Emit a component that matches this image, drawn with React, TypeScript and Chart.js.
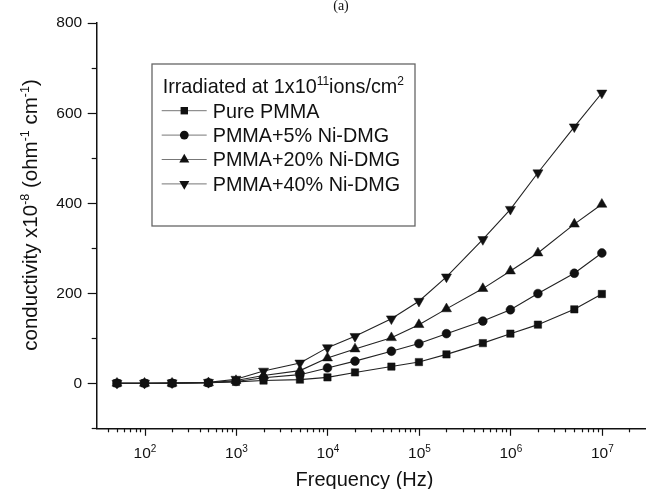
import React, { useEffect, useRef } from 'react';
import { Chart, registerables } from 'chart.js';

Chart.register(...registerables);

// ---- data ----
const frequencies = [50, 100, 200, 500, 1e3, 2e3, 5e3, 1e4, 2e4, 5e4, 1e5, 2e5, 5e5, 1e6, 2e6, 5e6, 1e7];
const purePMMA = [0, 0, 0, 1, 3, 6, 8, 13, 24, 37, 47, 64, 89, 110, 130, 164, 198];
const pmma5 = [0, 0, 0, 1, 4, 12, 19, 34, 49, 71, 88, 110, 138, 163, 199, 244, 289];
const pmma20 = [0, 0, 0, 1, 6, 17, 28, 56, 76, 101, 130, 165, 210, 249, 289, 353, 397];
const pmma40 = [0, 0, 1, 2, 9, 27, 45, 79, 104, 143, 182, 236, 319, 386, 467, 569, 644];

const seriesLabels = ['Pure PMMA', 'PMMA+5% Ni-DMG', 'PMMA+20% Ni-DMG', 'PMMA+40% Ni-DMG'];
const seriesValues = [purePMMA, pmma5, pmma20, pmma40];
const seriesStyles = ['rect', 'circle', 'triangle', 'triangleDown'];

const xTickExponents = [2, 3, 4, 5, 6, 7];
const yTickValues = [0, 200, 400, 600, 800];
const yMinorValues = [-100, 100, 300, 500, 700];

const FONT = '"Liberation Sans", Arial, Helvetica, sans-serif';

type Part = { text: string; sup?: boolean };

function drawRich(
  ctx: CanvasRenderingContext2D,
  parts: Part[],
  x: number,
  y: number,
  align: 'left' | 'center' | 'right',
  size: number,
  supSize: number,
  supRise: number
) {
  let total = 0;
  const widths = parts.map((p) => {
    ctx.font = `${p.sup ? supSize : size}px ${FONT}`;
    const w = ctx.measureText(p.text).width;
    total += w;
    return w;
  });
  let cx = align === 'left' ? x : align === 'center' ? x - total / 2 : x - total;
  ctx.textAlign = 'left';
  ctx.textBaseline = 'alphabetic';
  parts.forEach((p, i) => {
    ctx.font = `${p.sup ? supSize : size}px ${FONT}`;
    ctx.fillText(p.text, cx, p.sup ? y - supRise : y);
    cx += widths[i];
  });
}

function drawMarker(ctx: CanvasRenderingContext2D, style: string, x: number, y: number) {
  ctx.beginPath();
  if (style === 'rect') {
    const s = 3.7;
    ctx.rect(x - s, y - s, 2 * s, 2 * s);
  } else if (style === 'circle') {
    ctx.arc(x, y, 4.4, 0, Math.PI * 2);
  } else if (style === 'triangle') {
    const r = 5.8;
    ctx.moveTo(x, y - r);
    ctx.lineTo(x + r * 0.866, y + r / 2);
    ctx.lineTo(x - r * 0.866, y + r / 2);
    ctx.closePath();
  } else {
    const r = 5.8;
    ctx.moveTo(x, y + r);
    ctx.lineTo(x + r * 0.866, y - r / 2);
    ctx.lineTo(x - r * 0.866, y - r / 2);
    ctx.closePath();
  }
  ctx.fill();
}

const customPlugin = {
  id: 'customAxesLegend',
  afterDraw(chart: any) {
    const { ctx, chartArea, scales } = chart;
    const xs = scales.x;
    const ys = scales.y;
    ctx.save();
    ctx.strokeStyle = '#111';
    ctx.fillStyle = '#111';
    ctx.lineWidth = 1.2;

    // x tick marks
    const xMin = xs.min;
    const xMax = xs.max;
    for (let e = 1; e <= 7; e++) {
      for (let k = 1; k <= 9; k++) {
        const v = k * Math.pow(10, e);
        if (v <= xMin || v >= xMax) continue;
        const px = Math.round(xs.getPixelForValue(v)) + 0.5;
        const len = k === 1 ? 7.5 : 4;
        ctx.beginPath();
        ctx.moveTo(px, chartArea.bottom);
        ctx.lineTo(px, chartArea.bottom + len);
        ctx.stroke();
      }
    }
    // y tick marks
    yTickValues.forEach((v) => {
      const py = Math.round(ys.getPixelForValue(v)) + 0.5;
      ctx.beginPath();
      ctx.moveTo(chartArea.left, py);
      ctx.lineTo(chartArea.left - 9, py);
      ctx.stroke();
    });
    yMinorValues.forEach((v) => {
      const py = Math.round(ys.getPixelForValue(v)) + 0.5;
      ctx.beginPath();
      ctx.moveTo(chartArea.left, py);
      ctx.lineTo(chartArea.left - 5, py);
      ctx.stroke();
    });

    // y tick labels
    ctx.font = `15.5px ${FONT}`;
    ctx.textAlign = 'right';
    ctx.textBaseline = 'middle';
    yTickValues.forEach((v) => {
      ctx.fillText(String(v), chartArea.left - 14.5, ys.getPixelForValue(v) + 0.5);
    });

    // x tick labels
    xTickExponents.forEach((e) => {
      const px = xs.getPixelForValue(Math.pow(10, e));
      drawRich(ctx, [{ text: '10' }, { text: String(e), sup: true }], px + 0.5, chartArea.bottom + 30, 'center', 15.5, 10, 6);
    });

    // x axis title
    drawRich(ctx, [{ text: 'Frequency (Hz)' }], 364.5, 485.5, 'center', 20, 12, 8);

    // y axis title
    ctx.save();
    ctx.translate(36.5, 215);
    ctx.rotate(-Math.PI / 2);
    drawRich(
      ctx,
      [
        { text: 'conductivity x10' },
        { text: '-8', sup: true },
        { text: ' (ohm' },
        { text: '-1', sup: true },
        { text: ' cm' },
        { text: '-1', sup: true },
        { text: ')' },
      ],
      0,
      0,
      'center',
      20.5,
      12.5,
      8
    );
    ctx.restore();

    // legend
    ctx.strokeStyle = '#666';
    ctx.lineWidth = 1.3;
    ctx.strokeRect(152, 64, 263, 162);
    ctx.fillStyle = '#111';
    drawRich(
      ctx,
      [
        { text: 'Irradiated at 1x10' },
        { text: '11', sup: true },
        { text: 'ions/cm' },
        { text: '2', sup: true },
      ],
      162.7,
      92.7,
      'left',
      19.8,
      12,
      8
    );
    seriesLabels.forEach((label, i) => {
      const cy = 110.7 + i * 24.4;
      ctx.strokeStyle = '#777';
      ctx.lineWidth = 1;
      ctx.beginPath();
      ctx.moveTo(161.7, cy);
      ctx.lineTo(206.7, cy);
      ctx.stroke();
      ctx.fillStyle = '#111';
      drawMarker(ctx, seriesStyles[i], 184.3, cy);
      drawRich(ctx, [{ text: label }], 212.7, cy + 6.8, 'left', 19.8, 12, 8);
    });

    // panel label
    ctx.fillStyle = '#111';
    ctx.font = `14px "Liberation Serif", "Times New Roman", serif`;
    ctx.textAlign = 'center';
    ctx.textBaseline = 'alphabetic';
    ctx.fillText('(a)', 341, 10);

    ctx.restore();
  },
};

export default function App() {
  const canvasRef = useRef<HTMLCanvasElement | null>(null);

  useEffect(() => {
    if (!canvasRef.current) return;
    const pointStyleFor = (s: string) => (s === 'triangleDown' ? 'triangle' : s);
    const radiusFor = (s: string) => (s === 'rect' ? 5.2 : s === 'circle' ? 4.4 : 5.8);
    const datasets = seriesLabels.map((label, i) => ({
      label,
      data: frequencies.map((f, j) => ({ x: f, y: seriesValues[i][j] })),
      borderColor: '#222',
      borderWidth: 1.1,
      backgroundColor: '#111',
      pointBackgroundColor: '#111',
      pointBorderColor: '#111',
      pointBorderWidth: 0.5,
      pointStyle: pointStyleFor(seriesStyles[i]) as any,
      pointRotation: seriesStyles[i] === 'triangleDown' ? 180 : 0,
      pointRadius: radiusFor(seriesStyles[i]),
      tension: 0,
      fill: false,
    }));

    const chart = new Chart(canvasRef.current, {
      type: 'line',
      data: { datasets },
      options: {
        animation: false,
        responsive: false,
        devicePixelRatio: 1,
        layout: { autoPadding: false, padding: { top: 22.7, right: 1.5, left: 0, bottom: 0 } },
        plugins: {
          legend: { display: false },
          tooltip: { enabled: false },
          title: { display: false },
        },
        scales: {
          x: {
            type: 'logarithmic',
            min: 30,
            max: 3e7,
            grid: { display: false },
            ticks: { display: false },
            border: { display: true, color: '#111', width: 1.5 },
            afterFit: (scale: any) => {
              scale.height = 60.7;
            },
          },
          y: {
            type: 'linear',
            min: -100,
            max: 800,
            grid: { display: false },
            ticks: { display: false },
            border: { display: true, color: '#111', width: 1.5 },
            afterFit: (scale: any) => {
              scale.width = 96.7;
            },
          },
        },
      },
      plugins: [customPlugin],
    });
    return () => chart.destroy();
  }, []);

  return (
    <div style={{ position: 'fixed', left: 0, top: 0, width: 647, height: 489, background: '#fff' }}>
      <canvas ref={canvasRef} width={647} height={489} style={{ display: 'block' }} />
    </div>
  );
}
